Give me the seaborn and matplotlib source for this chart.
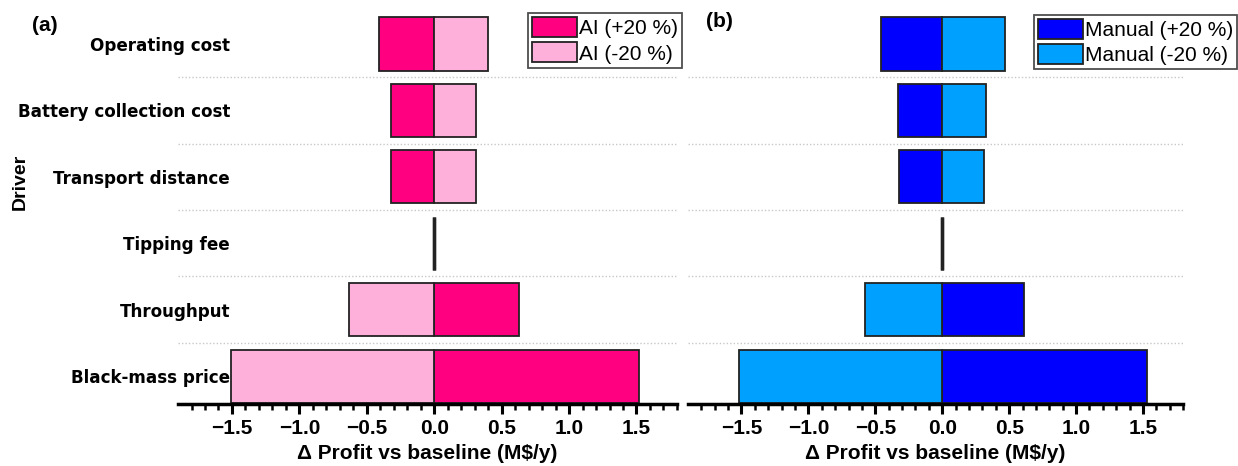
import numpy as np
import pandas as pd
import matplotlib
matplotlib.use('Agg')
import matplotlib.pyplot as plt
import seaborn as sns

sns.set_style('white')
plt.rcParams['font.family'] = ['DejaVu Sans']
plt.rcParams['text.color'] = 'black'
plt.rcParams['axes.labelcolor'] = 'black'
plt.rcParams['xtick.color'] = 'black'
plt.rcParams['ytick.color'] = 'black'

drivers = ['Operating cost', 'Battery collection cost', 'Transport distance',
           'Tipping fee', 'Throughput', 'Black-mass price']

# Δ profit (M$/y)
ai_plus = [-0.41, -0.32, -0.32, 0.0, 0.63, 1.52]
ai_minus = [0.40, 0.31, 0.31, 0.0, -0.63, -1.51]
man_plus = [-0.46, -0.33, -0.32, 0.0, 0.61, 1.53]
man_minus = [0.47, 0.33, 0.31, 0.0, -0.58, -1.52]

ai_labels = ['AI (+20 %)', 'AI (-20 %)']
man_labels = ['Manual (+20 %)', 'Manual (-20 %)']
ai_colors = ['#FF0080', '#FFB0DA']
man_colors = ['#0000FF', '#00A0FF']

ARIAL = 'Liberation Sans'


def long_table(plus, minus, labels):
    return pd.DataFrame({
        'driver': drivers * 2,
        'delta': plus + minus,
        'case': [labels[0]] * len(drivers) + [labels[1]] * len(drivers),
    })


def draw(ax, data, labels, colors, legend_anchor):
    sns.barplot(data=data, x='delta', y='driver', hue='case', hue_order=labels,
                palette=colors, saturation=1, dodge=False, width=0.8, orient='h',
                edgecolor='#222222', linewidth=1.3, ax=ax)
    ax.set_xlim(-1.9, 1.8)
    ax.set_ylim(5.42, -0.55)
    ax.set_xticks(np.arange(-1.5, 1.51, 0.5))
    ax.set_xticks(np.arange(-1.8, 1.81, 0.1), minor=True)
    ax.set_yticks(np.arange(0.5, 5, 1), minor=True)
    ax.grid(False)
    ax.grid(which='minor', axis='y', linestyle=(0, (1, 1.5)), color='#c8c8c8', linewidth=1)
    for s in ['top', 'right', 'left']:
        ax.spines[s].set_visible(False)
    ax.spines['bottom'].set_linewidth(2.5)
    ax.spines['bottom'].set_color('black')
    ax.tick_params(axis='x', which='major', direction='out', length=7, width=2.2,
                   pad=4, bottom=True)
    ax.tick_params(axis='x', which='minor', direction='out', length=4, width=1.8, bottom=True)
    ax.tick_params(axis='y', which='both', length=0)
    for t in ax.get_xticklabels():
        t.set_fontweight('bold')
        t.set_fontfamily(ARIAL)
        t.set_fontsize(15)
    ax.set_xlabel('Δ Profit vs baseline (M$/y)', fontsize=15, fontweight='bold',
                  family=ARIAL, labelpad=4)
    leg = ax.legend(loc='upper right', bbox_to_anchor=legend_anchor, frameon=True,
                    fancybox=False, edgecolor='#222222',
                    prop={'family': ARIAL, 'size': 15},
                    handlelength=2.15, handleheight=1.1, handletextpad=0.1,
                    borderpad=0.2, labelspacing=0.2, borderaxespad=0)
    leg.get_frame().set_linewidth(1.3)
    for h in leg.legend_handles:
        h.set_linewidth(1.3)
    # zero-width bars (tipping fee) show as a thicker line
    for p in ax.patches:
        if abs(p.get_width()) < 1e-9:
            p.set_linewidth(2.4)


fig = plt.figure(figsize=(12.38, 4.66), dpi=100)
ax1 = fig.add_axes([0.1438, 0.133, 0.403, 0.851])
ax2 = fig.add_axes([0.5557, 0.133, 0.400, 0.851])

draw(ax1, long_table(ai_plus, ai_minus, ai_labels), ai_labels, ai_colors, (1.01, 0.986))
draw(ax2, long_table(man_plus, man_minus, man_labels), man_labels, man_colors, (1.109, 0.982))

for t in ax1.get_yticklabels():
    t.set_fontweight('bold')
    t.set_fontsize(12.1)
ax1.tick_params(axis='y', pad=-37.5)
ax1.set_ylabel('Driver', fontsize=14, fontweight='bold', family=ARIAL)
ax1.yaxis.set_label_coords(-0.300, 0.56)
ax2.set_ylabel('')
ax2.set_yticklabels([])

fig.text(0.026, 0.945, '(a)', fontsize=15, fontweight='bold', family=ARIAL, va='center')
fig.text(0.570, 0.953, '(b)', fontsize=15, fontweight='bold', family=ARIAL, va='center')

fig.savefig('out.png', dpi=100)
